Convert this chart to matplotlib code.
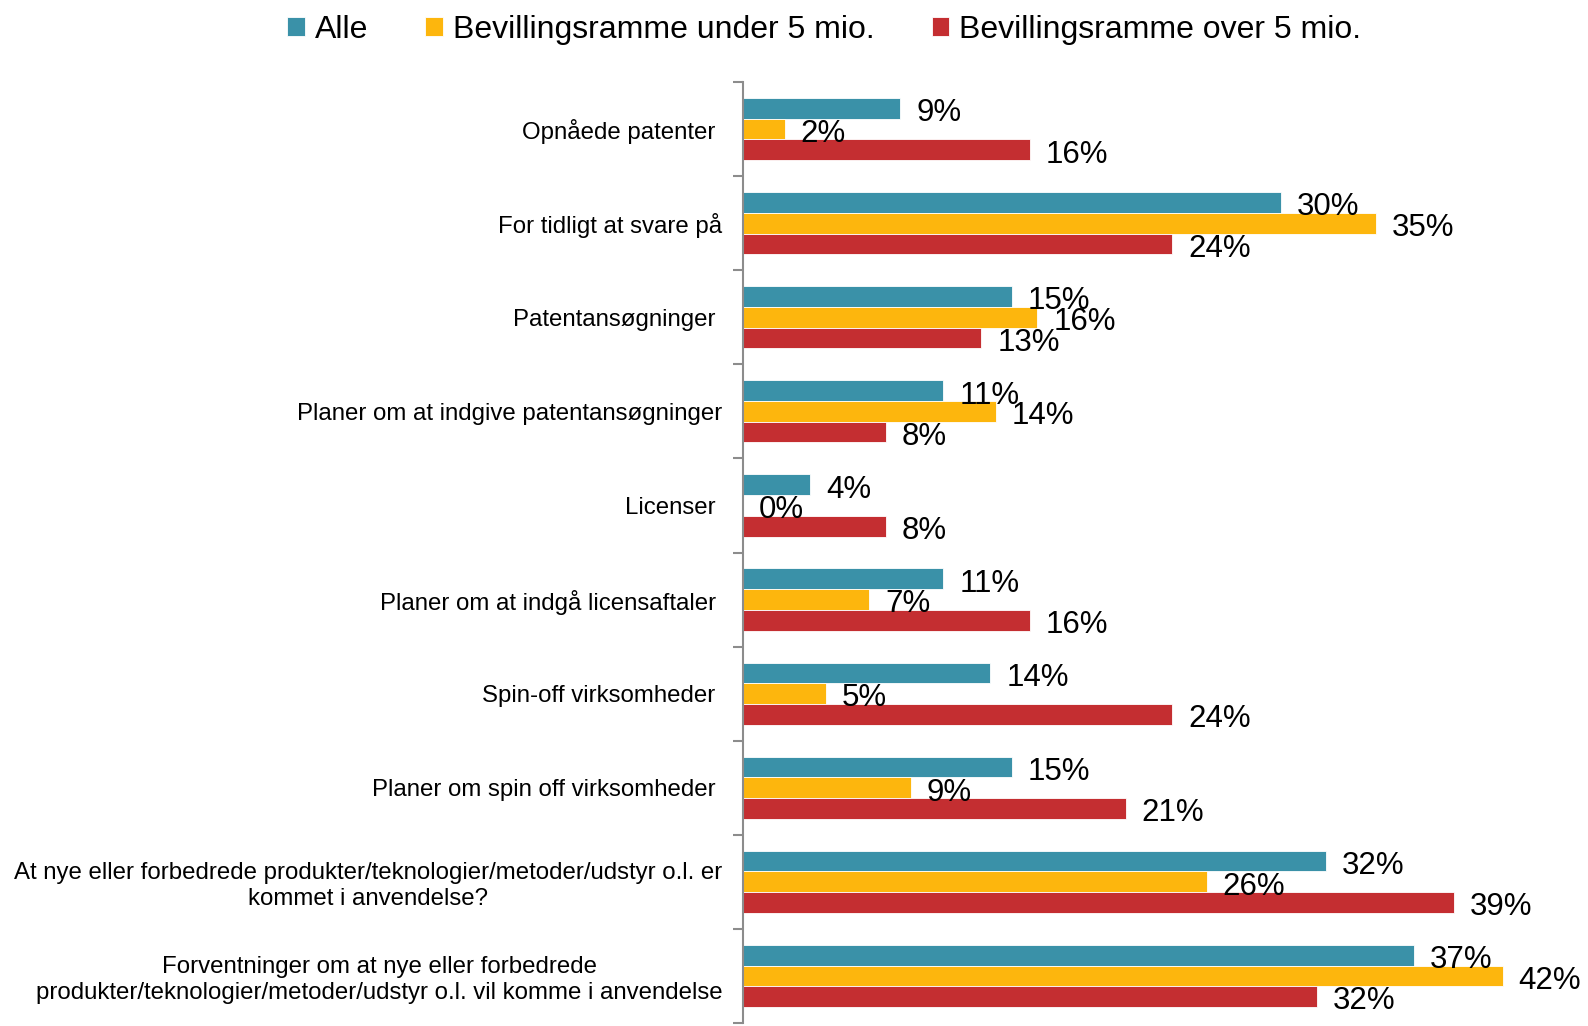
import matplotlib
matplotlib.use("Agg")
import matplotlib.pyplot as plt
import numpy as np

plt.rcParams['font.family'] = ['Liberation Sans', 'DejaVu Sans']

categories = [
    "Opnåede patenter ",
    "For tidligt at svare på",
    "Patentansøgninger ",
    "Planer om at indgive patentansøgninger",
    "Licenser ",
    "Planer om at indgå licensaftaler ",
    "Spin-off virksomheder ",
    "Planer om spin off virksomheder ",
    "At nye eller forbedrede produkter/teknologier/metoder/udstyr o.l. er\nkommet i anvendelse?",
    "Forventninger om at nye eller forbedrede\nprodukter/teknologier/metoder/udstyr o.l. vil komme i anvendelse",
]
series_names = ["Alle", "Bevillingsramme under 5 mio.", "Bevillingsramme over 5 mio."]
alle = [8.7, 29.8, 14.9, 11.1, 3.7, 11.1, 13.7, 14.9, 32.3, 37.2]
under5 = [2.3, 35.1, 16.3, 14.0, 0.0, 7.0, 4.6, 9.3, 25.7, 42.1]
over5 = [15.9, 23.8, 13.2, 7.9, 7.9, 15.9, 23.8, 21.2, 39.4, 31.8]
colors = ["#3A91A8", "#FDB60D", "#C42E31"]

fig = plt.figure(figsize=(15.88, 10.26), dpi=100)
ax = fig.add_axes([0.468, 0.003, 0.527, 0.917])

y = np.arange(len(categories))
h = 0.22
containers = []
for k, (vals, name, col) in enumerate(zip([alle, under5, over5], series_names, colors)):
    pos = y + (k - 1) * h
    bc = ax.barh(pos, vals, height=h, color=col, edgecolor='white', linewidth=0.6, label=name)
    containers.append(bc)
    for p, v in zip(pos, vals):
        ax.annotate(f"{v:.0f}%", xy=(v, p), xytext=(11.5, -3.5), textcoords='offset points',
                    ha='left', va='center', fontsize=22.5, color='black')

ax.set_xlim(0, 46.4)
ax.set_ylim(len(categories) - 0.5, -0.5)

ax.set_yticks(y)
ax.set_yticklabels(categories, fontsize=17.3)
for t in ax.get_yticklabels():
    t.set_multialignment('center')
ax.set_yticks(np.arange(-0.5, len(categories) + 0.5, 1.0), minor=True)
ax.tick_params(axis='y', which='major', length=0, pad=15)
ax.tick_params(axis='y', which='minor', length=7, width=1.5, color='#8c8c8c', direction='out')

ax.xaxis.set_visible(False)
for s in ['top', 'right', 'bottom']:
    ax.spines[s].set_visible(False)
ax.spines['left'].set_color('#8c8c8c')
ax.spines['left'].set_linewidth(1.5)

fig.legend(handles=containers, labels=series_names, loc='center', bbox_to_anchor=(0.519, 0.971),
           ncol=3, frameon=False, fontsize=23, handlelength=0.55, handleheight=0.55,
           handletextpad=0.3, columnspacing=1.8)

fig.savefig("out.png", dpi=100, facecolor='white')
